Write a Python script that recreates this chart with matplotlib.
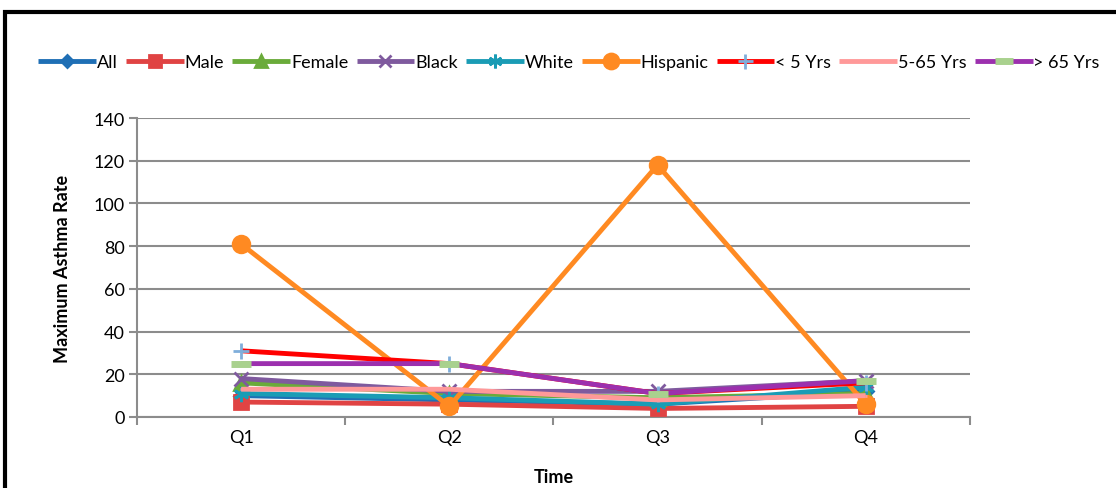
import matplotlib.pyplot as plt
from matplotlib.patches import Rectangle

plt.rcParams['font.family'] = ['Lato', 'DejaVu Sans']

quarters = ['Q1', 'Q2', 'Q3', 'Q4']

all_rate = [10, 8, 6, 12]
male = [7, 6, 4, 5]
female = [16, 11, 9, 11]
black = [18, 12, 12, 17]
white = [11, 9, 6, 14]
hispanic = [81, 5, 118, 6]
under5 = [31, 25, 11, 16]
mid_age = [13, 13, 8, 10]
over65 = [25, 25, 11, 17]

# (label, values, line colour, marker, marker colour, marker size)
series = [
    ('All', all_rate, '#1F6FB5', 'D', '#1F6FB5', 7),
    ('Male', male, '#E04343', 's', '#E04343', 10),
    ('Female', female, '#6AAB3A', '^', '#6AAB3A', 10),
    ('Black', black, '#7F5A9E', 'x', '#7F5A9E', 10),
    ('White', white, '#1A9CB5', (6, 2, 0), '#1A9CB5', 11),
    ('Hispanic', hispanic, '#FF8A22', 'o', '#FF8A22', 12),
    ('< 5 Yrs', under5, '#FF0000', '+', '#7FAEDB', 12),
    ('5-65 Yrs', mid_age, '#FF9999', '_', '#FF9999', 1),
    ('> 65 Yrs', over65, '#9C30AE', '_', '#A9D18E', 15),
]

fig = plt.figure(figsize=(11.16, 4.89), dpi=100)
ax = fig.add_axes([0.1228, 0.1452, 0.7462, 0.6114])

x = list(range(len(quarters)))
handles = []
for i, (lab, vals, col, mk, mcol, ms) in enumerate(series):
    mew = 2
    if lab == '> 65 Yrs':
        mew = 5
    h, = ax.plot(x, vals, color=col, lw=3.5, marker=mk, markersize=ms,
                 markerfacecolor=mcol, markeredgecolor=mcol, markeredgewidth=mew,
                 label=lab, zorder=3 + i, solid_capstyle='butt')
    handles.append(h)

ax.set_xlim(-0.5, 3.5)
ax.set_ylim(0, 140)
ax.set_yticks(range(0, 141, 20))
ax.set_xticks(x)
ax.set_xticklabels(quarters)
ax.set_xticks([-0.5, 0.5, 1.5, 2.5, 3.5], minor=True)
ax.tick_params(axis='x', which='major', length=0, pad=9, labelsize=13)
ax.tick_params(axis='x', which='minor', length=6, width=1.5, color='#8C8C8C', direction='out')
ax.tick_params(axis='y', length=6, width=1.5, color='#8C8C8C', labelsize=13, pad=3)
ax.grid(axis='y', color='#8C8C8C', lw=1.5, zorder=0)
ax.set_axisbelow(True)
for s in ['top', 'right']:
    ax.spines[s].set_visible(False)
for s in ['left', 'bottom']:
    ax.spines[s].set_color('#8C8C8C')
    ax.spines[s].set_linewidth(1.5)

ax.set_ylabel('Maximum Asthma Rate', fontsize=13, fontweight='bold', labelpad=16)
ax.set_xlabel('Time', fontsize=13, fontweight='bold', labelpad=16)

fig.legend(handles=handles, loc='center', bbox_to_anchor=(0.51, 0.871), ncol=9,
           frameon=False, fontsize=13, handlelength=3.2, handletextpad=0.05,
           columnspacing=0.45, markerscale=0.9)

# outer black frame, partly cut off on the right and bottom
fig.patches.append(Rectangle((5 / 1116, -0.1), 1.2, 1 - 13 / 489 + 0.1,
                             transform=fig.transFigure, fill=False,
                             edgecolor='black', lw=3))

fig.savefig('out.png', dpi=100)
